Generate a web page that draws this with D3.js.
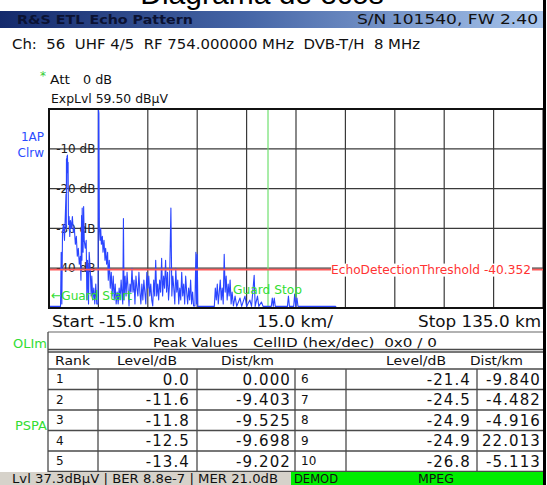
<!DOCTYPE html>
<html>
<head>
<meta charset="utf-8">
<script src="https://cdn.jsdelivr.net/npm/d3@7"></script>
<style>
  body { margin: 0; background: #fff; }
  svg text { font-family: "DejaVu Sans", Verdana, sans-serif; white-space: pre; }
</style>
</head>
<body>
<div id="chart"></div>
<script>
// echo trace: distance (km) and level (dB)
var traceKm = [-15.0, -11.5, -11.3, -11.1, -10.9, -10.6, -10.3, -10.1, -9.84, -9.75, -9.698, -9.6, -9.525, -9.45, -9.403, -9.3, -9.202, -9.1,
  -8.9, -8.7, -8.5, -8.2, -7.9, -7.6, -7.3, -7.0, -6.7, -6.4, -6.1, -5.8, -5.5, -5.3, -5.113, -5.0, -4.916, -4.8, -4.65, -4.482, -4.3,
  -4.0, -3.7, -3.5, -3.3, -3.0, -2.8, -2.5, -2.2, -2.0, -1.7, -1.4, -1.1, -0.8, -0.5, -0.3, -0.1, 0.0, 0.15, 0.3, 0.5, 0.7, 0.9,
  1.2, 1.4, 1.7, 2.0, 2.2, 2.5, 2.8, 3.0, 3.3, 3.6, 3.9, 4.2, 4.5, 4.8, 5.1, 5.4, 5.7, 6.0, 6.3, 6.6, 6.9, 7.2, 7.4, 7.6, 7.8,
  8.1, 8.4, 8.7, 9.0, 9.3, 9.6, 9.9, 10.2, 10.5, 10.8, 11.1, 11.4, 11.7, 12.0, 12.3, 12.6, 12.9, 13.2, 13.5, 13.8, 14.1, 14.4,
  14.7, 15.0, 15.3, 15.6, 15.9, 16.2, 16.5, 16.8, 17.1, 17.4, 17.7, 18.0, 18.3, 18.6, 18.9, 19.2, 19.5, 19.8, 20.1, 20.4, 20.7,
  21.0, 21.3, 21.6, 22.013, 22.3, 22.6, 22.9, 23.2, 23.5, 23.8, 24.1, 24.4, 24.7, 25.0, 25.3, 25.6, 25.9, 26.2, 26.5, 26.8, 27.1,
  27.4, 27.7, 28.0, 28.3, 28.6, 28.9, 29.3, 29.6, 29.8, 30.0, 30.2, 35.2, 35.5, 35.8, 36.1, 36.4, 36.7, 37.0, 37.3, 37.6, 37.9,
  38.2, 38.5, 38.8, 39.1, 39.4, 39.7, 40.0, 40.3, 40.6, 41.0, 41.5, 42.0, 43.0, 43.5, 44.5, 45.0, 46.0, 46.5, 47.3, 47.6, 48.3,
  48.7, 49.5, 50.0, 52.5, 52.8, 53.1, 53.4, 53.7, 57.4, 57.7, 58.0, 59.3, 59.6, 59.9, 60.3, 60.6, 72.0, 72.3, 135.0];
var traceDb = [-49.6, -49.6, -36, -49, -31, -29, -33, -28, -21.4, -30, -12.5, -20, -11.8, -16, -11.6, -15, -13.4, -29,
  -27, -32, -28, -30, -27, -31, -30, -34, -32, -37, -35, -39, -37, -43, -26.8, -38, -24.9, -34, -36, -24.5, -33,
  -35, -33, -48, -38, -49, -36, -40, -47, -42, -48, -45, -49, -44, -49, -49, -49, 0, -1, -30, -33, -30, -34,
  -32, -36, -33, -38, -35, -39, -36, -43, -38, -45, -41, -47, -42, -48, -44, -49, -46, -49, -45, -48, -43, -47, -49, -27.5, -48,
  -42, -47, -41, -45, -49.5, -44, -46, -40, -46, -43, -49, -42, -45, -47, -41, -46, -49, -44, -48, -43, -46, -49,
  -41, -45, -42, -47, -44, -48, -49.5, -43, -47, -38, -47, -44, -48, -43, -46, -37.5, -47, -42, -45, -38, -46,
  -41, -48, -44, -24.9, -47, -42, -45, -49, -40, -46, -43, -49, -45, -48, -41, -47, -44, -49, -42, -46, -49,
  -45, -48, -43, -49, -46, -49.5, -49.5, -36, -49, -36.5, -49.6, -49.6, -45, -48, -44, -49, -46, -43, -48, -45, -49,
  -36.5, -46, -42, -48, -44, -47, -43, -49, -46, -49.5, -47, -49.6, -47.5, -49.6, -47, -49.6, -48, -49.6, -41.8, -49.6, -47,
  -49.6, -48.5, -49.6, -49.6, -47.5, -49.6, -47.5, -49.6, -49.6, -47, -49.6, -49.6, -46.5, -49.6, -47.5, -49.6, -49.6, -50, -50];

var gridDb = [0, -10, -20, -30, -40, -50];
var tickDb = [-10, -20, -30, -40];
var threshold = -40.352;
var guardStopKm = 51.5;

// peak table
var rankLeft = [1, 2, 3, 4, 5];
var levelLeft = [0.0, -11.6, -11.8, -12.5, -13.4];
var distLeft = [0.000, -9.403, -9.525, -9.698, -9.202];
var rankRight = [6, 7, 8, 9, 10];
var levelRight = [-21.4, -24.5, -24.9, -24.9, -26.8];
var distRight = [-9.840, -4.482, -4.916, 22.013, -5.113];

var width = 547, height = 485;

var svg = d3.select("#chart").append("svg")
    .attr("width", width)
    .attr("height", height);

svg.append("rect").attr("width", width).attr("height", height).attr("fill", "#fff");

function txt(x, y, s, o) {
  o = o || {};
  var t = svg.append("text")
      .attr("x", x).attr("y", y)
      .attr("dy", "0.35em")
      .attr("font-size", o.size || 13)
      .attr("fill", o.color || "#111")
      .attr("text-anchor", o.anchor || "start")
      .attr("xml:space", "preserve")
      .text(s);
  if (o.weight) t.attr("font-weight", o.weight);
  if (o.spacing) t.attr("letter-spacing", o.spacing);
  if (o.len) t.attr("textLength", o.len).attr("lengthAdjust", "spacingAndGlyphs");
  return t;
}

// cut-off page title
svg.append("text").attr("x", 262).attr("y", 4)
    .attr("text-anchor", "middle").attr("font-size", 30)
    .style("font-family", "'Liberation Sans', Arial, sans-serif")
    .text("Diagrama de ecos");

// header bar
var grad = svg.append("defs").append("linearGradient").attr("id", "hdr");
grad.append("stop").attr("offset", "0%").attr("stop-color", "#142a6c");
grad.append("stop").attr("offset", "45%").attr("stop-color", "#4565a6");
grad.append("stop").attr("offset", "100%").attr("stop-color", "#a8c5ec");
svg.append("rect").attr("x", 0).attr("y", 11).attr("width", 543).attr("height", 17).attr("fill", "url(#hdr)");
txt(17, 19.5, "R&S ETL Echo Pattern", {size: 13, weight: "bold", color: "#0b1233", len: 176});
txt(357, 19.5, "S/N 101540, FW 2.40", {size: 14, color: "#111", len: 181});

txt(12, 44, "Ch:  56  UHF 4/5  RF 754.000000 MHz  DVB-T/H  8 MHz", {size: 14, len: 408});

txt(40, 76, "*", {size: 12, color: "#33cc33"});
txt(50, 79, "Att", {size: 13, len: 20});
txt(83, 79, "0 dB", {size: 13, len: 29});
txt(51, 98, "ExpLvl 59.50 dB\u00b5V", {size: 13, len: 117});

txt(44, 137, "1AP", {size: 12, color: "#2b4bff", anchor: "end"});
txt(44, 153, "Clrw", {size: 12, color: "#2b4bff", anchor: "end"});

// plot
var x = d3.scaleLinear().domain([-15, 135]).range([49, 543]);
var y = d3.scaleLinear().domain([0, -50]).range([109, 308]);

var g = svg.append("g");
g.selectAll(".vgrid").data(d3.range(-15, 136, 15)).enter().append("line")
    .attr("x1", function(d) { return x(d); }).attr("x2", function(d) { return x(d); })
    .attr("y1", y(0)).attr("y2", y(-50))
    .attr("stroke", "#3a3a3a").attr("stroke-width", 1.2);
g.selectAll(".hgrid").data(gridDb).enter().append("line")
    .attr("x1", x(-15)).attr("x2", x(135))
    .attr("y1", function(d) { return y(d); }).attr("y2", function(d) { return y(d); })
    .attr("stroke", "#3a3a3a").attr("stroke-width", 1.2);

g.selectAll(".tick").data(tickDb).enter().append("text")
    .attr("x", x(0) - 3).attr("y", function(d) { return y(d); })
    .attr("dy", "0.35em").attr("text-anchor", "end")
    .attr("font-size", 12).attr("fill", "#222")
    .text(function(d) { return d + " dB"; });

// guard stop line
g.append("line").attr("x1", x(guardStopKm)).attr("x2", x(guardStopKm))
    .attr("y1", y(0)).attr("y2", y(-50))
    .attr("stroke", "#6fe06f").attr("stroke-width", 1.2);

var line = d3.line()
    .x(function(d, i) { return x(traceKm[i]); })
    .y(function(d) { return y(d); });
g.append("path").datum(traceDb)
    .attr("d", line)
    .attr("fill", "none")
    .attr("stroke", "#2a45ff")
    .attr("stroke-width", 1.1)
    .attr("stroke-linejoin", "round");

// threshold
var ty = y(threshold);
g.append("line").attr("x1", x(-15)).attr("x2", x(135)).attr("y1", ty).attr("y2", ty)
    .attr("stroke", "#ff5a5a").attr("stroke-width", 1.6);
g.append("rect").attr("x", 331).attr("y", ty - 6).attr("width", 201).attr("height", 13).attr("fill", "#fff");
txt(331, ty + 0.5, "EchoDetectionThreshold " + threshold.toFixed(3), {size: 12, color: "#ff3333", len: 200});

txt(51, 295, "\u2190Guard Start", {size: 13, color: "#33dd33", len: 81});
txt(233, 289, "Guard Stop", {size: 13, color: "#33dd33", len: 69});

// frame
g.append("path")
    .attr("d", "M" + x(135) + "," + y(0) + "H" + x(-15) + "V" + y(-50) + "H" + x(135))
    .attr("fill", "none").attr("stroke", "#111").attr("stroke-width", 2);

txt(52, 322, "Start -15.0 km", {size: 15, len: 123});
txt(257, 322, "15.0 km/", {size: 15, len: 76});
txt(541, 322, "Stop 135.0 km", {size: 15, anchor: "end", len: 123});

txt(47, 343, "OLIm", {size: 13, color: "#33dd33", anchor: "end"});
txt(47, 425, "PSPA", {size: 13, color: "#33dd33", anchor: "end"});

// table
var tl = 48, tr = 543, ttop = 332, hdr2 = 351, hdr3 = 369, rowH = 20.5;
var colLines = [98, 197, 295, 346, 477];
var tg = svg.append("g").attr("stroke", "#4a4a4a").attr("stroke-width", 1.3);
tg.append("line").attr("x1", tl).attr("x2", tr).attr("y1", ttop).attr("y2", ttop).attr("stroke", "#999");
tg.append("line").attr("x1", tl).attr("x2", tl).attr("y1", ttop).attr("y2", height);
tg.append("line").attr("x1", tl).attr("x2", tr).attr("y1", hdr2 - 1.5).attr("y2", hdr2 - 1.5);
tg.append("line").attr("x1", tl).attr("x2", tr).attr("y1", hdr2 + 1).attr("y2", hdr2 + 1);
tg.selectAll(".rowline").data(d3.range(6)).enter().append("line")
    .attr("x1", tl).attr("x2", tr)
    .attr("y1", function(i) { return hdr3 + i * rowH; })
    .attr("y2", function(i) { return hdr3 + i * rowH; });
tg.selectAll(".colline").data(colLines).enter().append("line")
    .attr("x1", function(d) { return d; }).attr("x2", function(d) { return d; })
    .attr("y1", hdr3).attr("y2", hdr3 + 5 * rowH);

txt(153, 342, "Peak Values", {size: 13, len: 85});
txt(253, 342, "CellID (hex/dec)  0x0 / 0", {size: 13, len: 184});
txt(55, 361, "Rank", {size: 12, len: 35});
txt(117, 361, "Level/dB", {size: 12, len: 60});
txt(221, 361, "Dist/km", {size: 12, len: 53});
txt(386, 361, "Level/dB", {size: 12, len: 60});
txt(470, 361, "Dist/km", {size: 12, len: 53});

rankLeft.forEach(function(r, i) {
  var cy = hdr3 + i * rowH + rowH / 2;
  txt(56, cy, r, {size: 12});
  txt(190, cy, levelLeft[i].toFixed(1), {size: 15, anchor: "end", spacing: 1.1});
  txt(291, cy, distLeft[i].toFixed(3), {size: 15, anchor: "end", spacing: 1.1});
  txt(301, cy, rankRight[i], {size: 12});
  txt(471, cy, levelRight[i].toFixed(1), {size: 15, anchor: "end", spacing: 1.1});
  txt(541, cy, distRight[i].toFixed(3), {size: 15, anchor: "end", spacing: 1.1});
});

// status bar
var sb = 472;
svg.append("rect").attr("x", 0).attr("y", sb).attr("width", 291).attr("height", height - sb).attr("fill", "#d6d2ca");
svg.append("rect").attr("x", 291).attr("y", sb).attr("width", 252).attr("height", height - sb).attr("fill", "#00ee00");
txt(12, 478.5, "Lvl 37.3dB\u00b5V | BER 8.8e-7 | MER 21.0dB", {size: 13, len: 266});
txt(294, 478.5, "DEMOD", {size: 13, len: 44});
txt(418, 478.5, "MPEG", {size: 13, len: 36});

// right edge of the instrument screen
svg.append("rect").attr("x", 543).attr("y", 0).attr("width", 3).attr("height", height).attr("fill", "#000");
</script>
</body>
</html>
